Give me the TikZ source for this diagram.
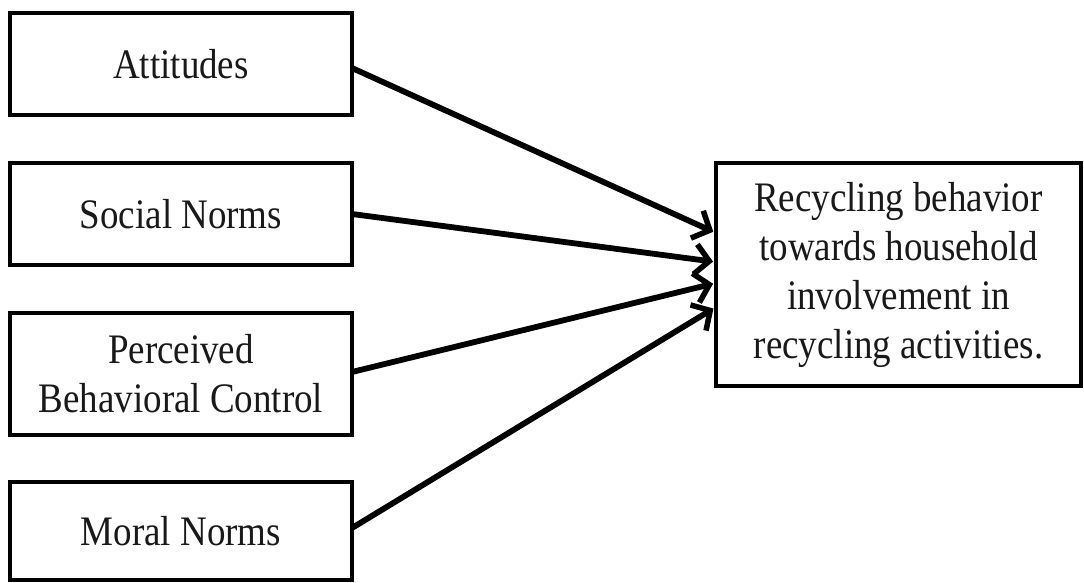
\documentclass[tikz,border=0pt]{standalone}
\usepackage{fontspec}
\setmainfont{Liberation Serif}[FakeStretch=0.88]
\usetikzlibrary{arrows.meta}
\tikzset{
  factor/.style={draw=black, line width=4pt, rectangle, inner sep=0pt, outer sep=0pt,
    minimum width=342pt, align=center, font=\fontsize{42}{49}\selectfont, text=black!90},
  outcome/.style={factor, minimum width=365pt, minimum height=223pt},
  link/.style={line width=5.8pt, -{Straight Barb[length=14pt,width=30pt,line width=5.5pt]}, shorten >=3pt}
}
\begin{document}
\begin{tikzpicture}[x=1pt, y=-1pt]
  \useasboundingbox (0,0) rectangle (1084,583);
  % predictor boxes
  \node[factor, minimum height=102pt] (att) at (181,64) {Attitudes};
  \node[factor, minimum height=102pt] (soc) at (181,214) {Social Norms};
  \node[factor, minimum height=122pt] (pbc) at (181,374) {Perceived\\Behavioral Control};
  \node[factor, minimum height=98pt]  (mor) at (181,531) {Moral Norms};
  % outcome box
  \node[outcome] (rec) at (898.5,274.5) {Recycling behavior\\towards household\\involvement in\\recycling activities.};
  % paths into the outcome
  \draw[link] ([yshift=-4pt]att.east) -- ([yshift=41.5pt]rec.west);
  \draw[link] (soc.east) -- ([yshift=12.5pt]rec.west);
  \draw[link] ([yshift=2pt]pbc.east) -- ([yshift=-8.5pt]rec.west);
  \draw[link] ([yshift=3pt]mor.east) -- ([yshift=-32.5pt]rec.west);
\end{tikzpicture}
\end{document}
